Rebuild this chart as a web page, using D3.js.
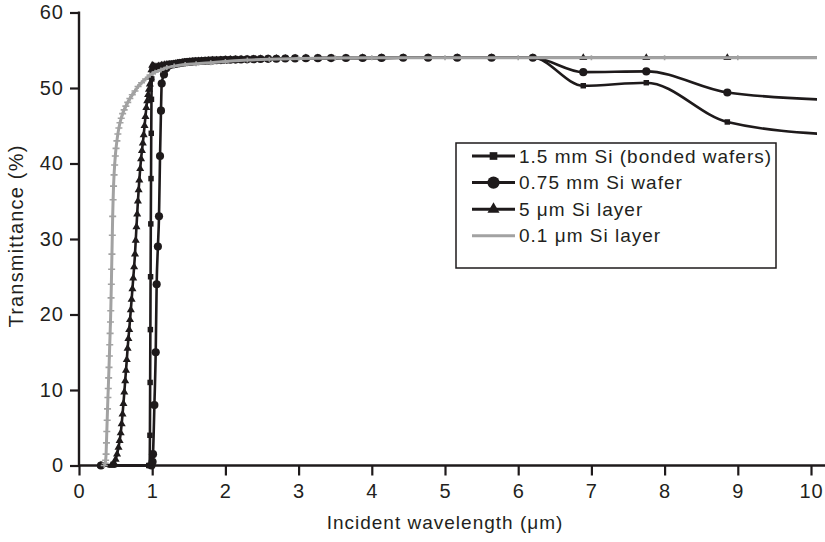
<!DOCTYPE html>
<html><head><meta charset="utf-8">
<script src="https://cdn.jsdelivr.net/npm/d3@7"></script>
<style>
body{margin:0;background:#fff}
svg{display:block}
text{font-family:"Liberation Sans",Arial,Helvetica,sans-serif;fill:#231f20}
</style>
</head><body><svg id="c" width="825" height="542"></svg>
<script>
// ---------- data ----------
const xTicks = [0,1,2,3,4,5,6,7,8,9,10];
const yTicks = [0,10,20,30,40,50,60];
const seriesNames = ["1.5 mm Si (bonded wafers)","0.75 mm Si wafer","5 \u03bcm Si layer","0.1 \u03bcm Si layer"];

// shared plateau (wavelength in um, transmittance in %)
const plateauWl = [1.265,1.292,1.319,1.348,1.378,1.409,1.442,1.476,1.512,1.550,1.590,1.632,1.676,1.722,1.771,1.824,1.879,1.938,2.000,2.067,2.138,2.214,2.296,2.385,2.480,2.583,2.696,2.818,2.952,3.100,3.263,3.444,3.647,3.875,4.133,4.429,4.769,5.167,5.636,6.200];
const plateauT = [53.1,53.15,53.2,53.25,53.3,53.35,53.4,53.43,53.46,53.5,53.53,53.55,53.58,53.6,53.62,53.65,53.67,53.7,53.72,53.74,53.76,53.78,53.8,53.82,53.84,53.86,53.88,53.9,53.92,53.94,53.95,53.96,53.97,53.98,53.99,54,54,54,54,54];

const tailWl = [6.889,7.750,8.857,10.333];
const squaresTailT = [50.3,50.7,45.5,43.8];
const circlesTailT = [52.1,52.2,49.4,48.4];
const trianglesTailT = [54,54,54,54];

const squaresRiseWl = [0.300,0.953,0.966,0.969,0.972,0.975,0.978,0.981,0.984,0.987,0.990,0.994,1.000,1.016,1.033,1.051,1.069,1.088,1.107,1.127,1.148,1.170,1.192,1.216,1.240];
const squaresRiseT  = [0,0,0,4,11,18,25,32,38,44,48.5,51.2,52.4,52.6,52.7,52.75,52.8,52.85,52.9,52.95,53,53,53.05,53.05,53.1];

const circlesRiseWl = [0.300,0.990,1.005,1.011,1.030,1.048,1.061,1.078,1.093,1.107,1.120,1.130,1.161,1.192,1.216,1.240];
const circlesRiseT  = [0,0,0.5,1.5,8,15,24,29,33,41,47,50.6,51.8,52.6,52.9,53.1];

const trianglesRiseWl = [0.300,0.440,0.460,0.480,0.500,0.520,0.540,0.555,0.570,0.583,0.595,0.607,0.619,0.631,0.642,0.653,0.664,0.675,0.686,0.697,0.708,0.719,0.730,0.741,0.753,0.765,0.775,0.785,0.795,0.805,0.815,0.824,0.836,0.848,0.860,0.872,0.884,0.896,0.908,0.920,0.932,0.944,0.956,0.968,0.980,0.990,1.000,1.016,1.033,1.051,1.069,1.088,1.107,1.127,1.148,1.170,1.192,1.216,1.240];
const trianglesRiseT  = [0,0,0,0.3,0.8,1.5,2.4,3.3,4.3,5.5,6.8,8.2,9.7,11.2,12.6,14,15.5,16.8,18,19.3,20.6,22,23.4,24.8,26.3,28,29.8,31.6,33.3,35,36.5,37.8,39.3,40.6,41.7,42.7,43.8,45,46.2,47.4,48.3,49.1,49.8,50.5,51.4,52.4,53.0,52.9,52.8,52.8,52.8,52.9,52.9,53,53,53.05,53.1,53.1,53.1];

const grayWl = [0.345,0.358,0.364,0.370,0.375,0.380,0.385,0.390,0.395,0.400,0.405,0.410,0.415,0.420,0.425,0.430,0.434,0.438,0.442,0.446,0.450,0.455,0.460,0.466,0.472,0.479,0.487,0.496,0.506,0.518,0.531,0.545,0.560,0.577,0.596,0.617,0.640,0.666,0.695,0.728,0.765,0.807,0.855,0.910,0.970,1.040,1.120,1.200,1.300,1.450,1.600,1.800,2.000,2.300,2.600,3.000,3.500,4.000,5.000,6.000,7.000,8.000,9.000,10.333];
const grayT  = [0,0.3,0.7,1.5,3,4.5,6,7.5,9,10.2,11.6,13,14.5,16,17.5,19,20.5,22.2,24,26,28,30.5,33,35.2,37,38.5,39.8,41,42,43,43.9,44.7,45.4,46,46.6,47.1,47.6,48.1,48.6,49.1,49.6,50.2,50.7,51.2,51.7,52.1,52.4,52.7,52.9,53.1,53.2,53.35,53.5,53.7,53.82,53.9,53.97,54,54,54,54,54,54,54];

// ---------- build ----------
const zip = (w,t) => w.map((v,i)=>({x:v,y:t[i]}));
const squares   = zip(squaresRiseWl.concat(plateauWl, tailWl), squaresRiseT.concat(plateauT, squaresTailT));
const circles   = zip(circlesRiseWl.concat(plateauWl, tailWl), circlesRiseT.concat(plateauT, circlesTailT));
const triangles = zip(trianglesRiseWl.concat(plateauWl, tailWl), trianglesRiseT.concat(plateauT, trianglesTailT));
const gray      = zip(grayWl, grayT);

const svg = d3.select('#c');
const x = d3.scaleLinear().domain([0,10]).range([79,811]);
const y = d3.scaleLinear().domain([0,60]).range([465.5,12.5]);
const ink = '#1e1a1b';
const grayCol = '#a2a2a2';

svg.append('defs').append('clipPath').attr('id','clip')
  .append('rect').attr('x',79).attr('y',0).attr('width',738).attr('height',470);

// axes
const gx = svg.append('g').attr('transform',`translate(0,${y(0)})`)
  .call(d3.axisBottom(x).tickValues(xTicks).tickSize(10).tickSizeOuter(0).tickPadding(8).tickFormat(d3.format('d')));
const gy = svg.append('g').attr('transform',`translate(${x(0)},0)`)
  .call(d3.axisLeft(y).tickValues(yTicks).tickSize(9).tickSizeOuter(0).tickPadding(6).tickFormat(d3.format('d')));
[gx,gy].forEach(g=>{
  g.select('.domain').remove();
  g.selectAll('.tick line').attr('stroke',ink).attr('stroke-width',2.2);
  g.selectAll('.tick text').attr('fill',ink).style('font-size','20px').style('font-family','"Liberation Sans",Arial,sans-serif').style('letter-spacing','1px');
});
svg.append('line').attr('x1',x(0)).attr('x2',825).attr('y1',y(0)).attr('y2',y(0)).attr('stroke',ink).attr('stroke-width',2.4);
svg.append('line').attr('x1',x(0)).attr('x2',x(0)).attr('y1',y(60)-1).attr('y2',y(0)+1).attr('stroke',ink).attr('stroke-width',2.4);

svg.append('text').attr('x',445).attr('y',529).attr('text-anchor','middle')
  .style('font-size','19px').style('letter-spacing','1px').text('Incident wavelength (\u03bcm)');
svg.append('text').attr('transform','translate(23,236) rotate(-90)').attr('text-anchor','middle')
  .style('font-size','20px').style('letter-spacing','1.2px').text('Transmittance (%)');

// series
const line = d3.line().x(d=>x(d.x)).y(d=>y(d.y)).curve(d3.curveMonotoneX);
const plot = svg.append('g').attr('clip-path','url(#clip)');
const sq = d3.symbol().type(d3.symbolSquare).size(30)();
const ci = d3.symbol().type(d3.symbolCircle).size(52)();
const tr = d3.symbol().type(d3.symbolTriangle).size(28)();
const cross = 'M-3.5,0H3.5M0,-2.5V2.5';

const series = [
  {data:squares, sym:sq, color:ink, w:2.6},
  {data:triangles, sym:tr, color:ink, w:2.6},
  {data:circles, sym:ci, color:ink, w:2.6},
];
series.forEach(s=>{
  plot.append('path').datum(s.data).attr('d',line).attr('fill','none').attr('stroke',s.color).attr('stroke-width',s.w).attr('stroke-linejoin','round');
  plot.append('g').selectAll('path').data(s.data).join('path')
    .attr('transform',d=>`translate(${x(d.x)},${y(d.y)})`).attr('d',s.sym).attr('fill',s.color);
});
plot.append('path').datum(gray).attr('d',line).attr('fill','none').attr('stroke',grayCol).attr('stroke-width',3);
plot.append('g').selectAll('path').data(gray).join('path')
  .attr('transform',d=>`translate(${x(d.x)},${y(d.y)})`).attr('d',cross).attr('stroke',grayCol).attr('stroke-width',1.6).attr('fill','none');

// legend
const lg = svg.append('g');
lg.append('rect').attr('x',456).attr('y',143).attr('width',320).attr('height',125).attr('fill','#fff').attr('stroke',ink).attr('stroke-width',1.5);
const legendSyms = [sq, ci, tr, null];
const legendScale = [1.4, 1.5, 1.5, 1];
seriesNames.forEach((n,i)=>{
  const cy = 156 + i*26.6;
  const col = i===3 ? grayCol : ink;
  lg.append('line').attr('x1',472).attr('x2',515).attr('y1',cy).attr('y2',cy).attr('stroke',col).attr('stroke-width',3);
  if(legendSyms[i]) lg.append('path').attr('d',legendSyms[i]).attr('transform',`translate(493.5,${cy}) scale(${legendScale[i]})`).attr('fill',col);
  lg.append('text').attr('x',519).attr('y',cy+6.5).style('font-size','19px').style('letter-spacing','1px').text(n);
});
</script></body></html>
